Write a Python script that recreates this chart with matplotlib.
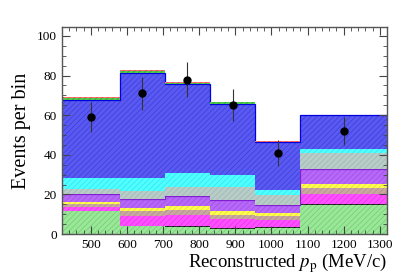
import numpy as np
import matplotlib
matplotlib.use("Agg")
import matplotlib.pyplot as plt
from matplotlib.ticker import MultipleLocator

# Bin edges (MeV/c)
edges = [420, 580, 705, 830, 955, 1080, 1320]

# Stacked component heights per bin (bottom to top)
green_bkg = [11.5, 4.0, 3.5, 2.6, 3.0, 14.5]
black_bkg = [0.3, 0.3, 0.7, 0.5, 0.5, 0.8]
magenta_bkg = [1.7, 5.0, 5.4, 4.4, 3.8, 4.9]
tan_bkg = [1.8, 2.5, 2.7, 2.1, 1.7, 2.8]
yellow_bkg = [0.9, 1.2, 1.7, 2.2, 1.4, 2.2]
violet_bkg = [3.8, 4.6, 5.2, 5.4, 4.2, 7.6]
grey_bkg = [2.5, 4.3, 4.5, 6.8, 5.0, 8.0]
cyan_bkg = [5.7, 6.3, 6.9, 5.8, 2.8, 2.1]
blue_sig = [39.6, 53.1, 45.2, 36.0, 23.9, 17.2]
green_top = [0.8, 0.9, 0.7, 0.7, 0.3, 0.1]
red_top = [0.4, 0.8, 0.3, 0.3, 0.3, 0.1]

# Data
data_counts = [59, 71, 78, 65, 41, 52]

# (values, face, hatch colour, outline colour or None)
layers = [
    (green_bkg, '#98E898', '#78C878', None),
    (black_bkg, '#303030', '#000000', None),
    (magenta_bkg, '#FF50FF', '#E830E8', None),
    (tan_bkg, '#C8A8A0', '#B09088', None),
    (yellow_bkg, '#FFFF50', '#E8D830', None),
    (violet_bkg, '#B868F8', '#9C50E8', '#8020D0'),
    (grey_bkg, '#B8CCC8', '#A0B4B0', None),
    (cyan_bkg, '#50FFFF', '#30E0F0', None),
    (blue_sig, '#5A5AF2', '#3C3CD8', '#0000E0'),
    (green_top, '#50C850', '#30A030', None),
    (red_top, '#FF7070', '#E04040', None),
]

plt.rcParams['font.family'] = ['Liberation Serif', 'DejaVu Serif']
plt.rcParams['mathtext.fontset'] = 'stix'
plt.rcParams['hatch.linewidth'] = 0.5

fig = plt.figure(figsize=(4.07, 2.76), dpi=100)
ax = fig.add_axes([0.152, 0.152, 0.799, 0.750])

base = np.zeros(len(edges) - 1)
for vals, fc, hc, lc in layers:
    top = base + np.array(vals)
    ax.stairs(top, edges, baseline=base, fill=True, facecolor=fc,
              edgecolor=hc, hatch='//////', linewidth=0)
    if lc is not None:
        ax.stairs(top, edges, baseline=None, color=lc, linewidth=0.9)
    base = top

centers = 0.5 * (np.array(edges[:-1]) + np.array(edges[1:]))
counts = np.array(data_counts, dtype=float)
ax.errorbar(centers, counts, yerr=np.sqrt(counts), fmt='o', color='black',
            ecolor='#333333', elinewidth=0.8, markersize=5, capsize=0)

ax.set_xlim(420, 1320)
ax.set_ylim(0, 104.5)
ax.xaxis.set_major_locator(MultipleLocator(100))
ax.xaxis.set_minor_locator(MultipleLocator(20))
ax.yaxis.set_major_locator(MultipleLocator(20))
ax.yaxis.set_minor_locator(MultipleLocator(5))
ax.set_xticks([500, 600, 700, 800, 900, 1000, 1100, 1200, 1300])
ax.tick_params(which='both', direction='in', top=True, right=True,
               labelsize=9.5, color='#444444')
ax.tick_params(which='major', length=6)
ax.tick_params(which='minor', length=3)
for s in ax.spines.values():
    s.set_color('#555555')
    s.set_linewidth(1.0)

ax.set_ylabel('Events per bin', fontsize=14.5, labelpad=4)
ax.set_xlabel(r'Reconstructed $p_{\mathrm{p}}$ (MeV/c)', fontsize=13.5,
              loc='right', labelpad=0)

fig.savefig('out.png', dpi=100)
